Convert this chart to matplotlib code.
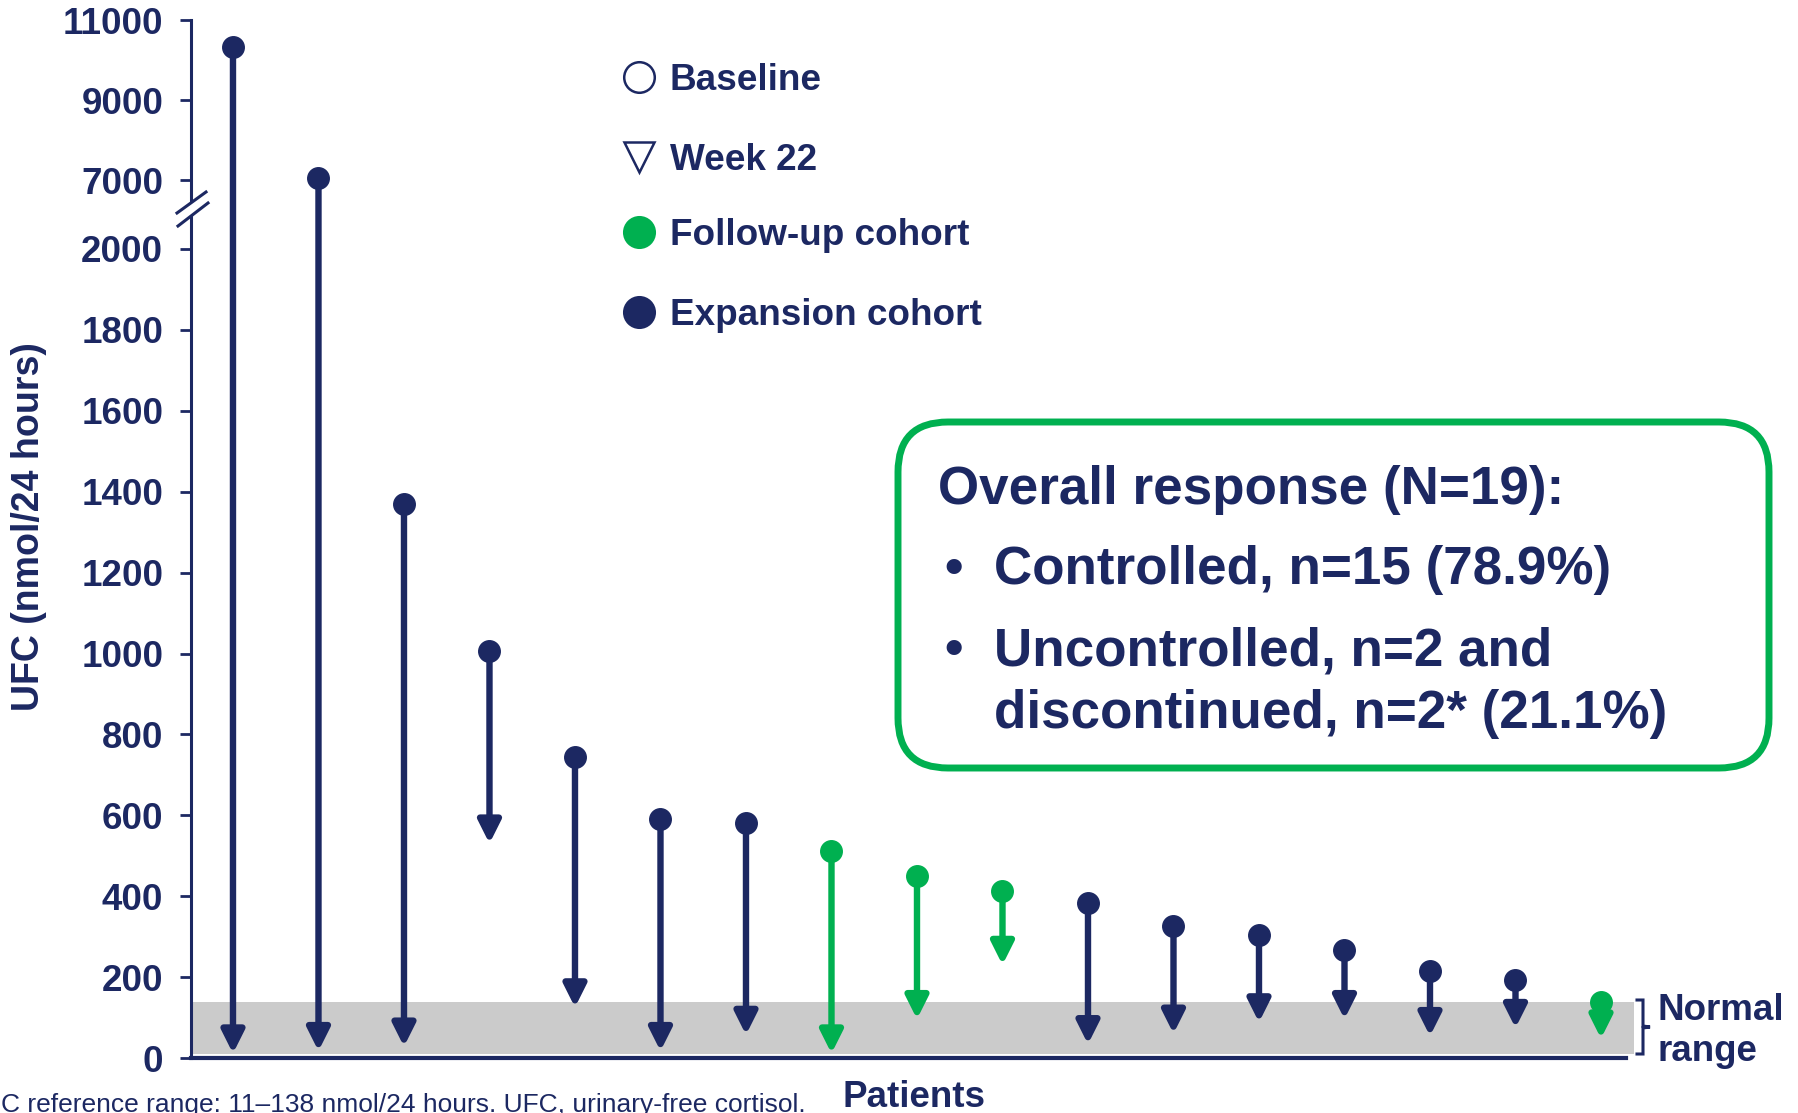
import numpy as np
import matplotlib.pyplot as plt
from matplotlib.patches import FancyArrowPatch, FancyBboxPatch, Polygon
from matplotlib.lines import Line2D
from matplotlib.transforms import IdentityTransform

plt.rcParams['font.family'] = ['Liberation Sans', 'DejaVu Sans']

# UFC per patient (nmol/24 h): baseline and week 22
patients = np.arange(1, 18)
baseline = [10330, 7060, 1370, 1005, 745, 590, 582, 511, 451, 414, 383, 326, 304, 267, 216, 193, 139]
week22 = [11, 17, 28, 530, 125, 17, 57, 11, 96, 230, 34, 60, 88, 96, 54, 74, 48]
cohort = ['exp'] * 7 + ['fu'] * 3 + ['exp'] * 6 + ['fu']
normal_range = (11, 138)
yticks = [0, 200, 400, 600, 800, 1000, 1200, 1400, 1600, 1800, 2000, 7000, 9000, 11000]

NAVY = '#1c2862'
GREEN = '#00b050'
colors = {'exp': NAVY, 'fu': GREEN}

W, H = 1798, 1113
fig = plt.figure(figsize=(W / 100, H / 100), dpi=100)
px = IdentityTransform()

ax = fig.add_axes([191 / W, 55 / H, (1634 - 191) / W, (1093 - 55) / H])

# broken y axis: compressed segment between 2000 and 7000
brk_vals = [0, 2000, 7000, 11000]
brk_pos = [0, 809, 878, 1038]


def fwd(v):
    return np.interp(np.asarray(v, float), brk_vals, brk_pos)


def inv(p):
    return np.interp(np.asarray(p, float), brk_pos, brk_vals)


ax.set_yscale('function', functions=(fwd, inv))
ax.set_ylim(0, 11000)
ax.set_xlim(0.509, 17.386)

ax.axhspan(*normal_range, color='#cbcbcb', lw=0, zorder=0)

for x, b, w, c in zip(patients, baseline, week22, cohort):
    col = colors[c]
    arr = FancyArrowPatch((x, b), (x, w), arrowstyle='-|>,head_length=0.68,head_width=0.34',
                          mutation_scale=20, lw=4.6, color=col, shrinkA=0, shrinkB=0,
                          joinstyle='round', capstyle='butt', zorder=3)
    ax.add_patch(arr)
    ax.plot(x, b, 'o', ms=15.5, color=col, mec=col, zorder=4)

ax.set_yticks(yticks)
ax.set_yticklabels([str(t) for t in yticks])
ax.set_xticks([])
ax.tick_params(axis='y', length=8, width=2, color=NAVY, pad=12,
               labelsize=26.5, labelcolor=NAVY)
for t in ax.get_yticklabels():
    t.set_fontweight('bold')
for s in ['top', 'right']:
    ax.spines[s].set_visible(False)
ax.spines['left'].set_linewidth(2.2)
ax.spines['left'].set_color(NAVY)
ax.spines['bottom'].set_linewidth(3)
ax.spines['bottom'].set_color(NAVY)
ax.spines['bottom'].set_bounds(0.509, 17.29)

# axis break marks
fig.add_artist(Polygon([(177, 900), (206, 921), (208, 910), (178, 887)], closed=True,
                       fc='white', ec='none', transform=px, zorder=5))
fig.add_artist(Line2D([177, 206], [900, 921], color=NAVY, lw=2.2, transform=px, zorder=6))
fig.add_artist(Line2D([178, 208], [887, 910], color=NAVY, lw=2.2, transform=px, zorder=6))

# normal range bracket
fig.add_artist(Line2D([1637, 1643, 1643, 1650, 1643, 1643, 1637],
                      [113, 113, 87, 86, 85, 59, 59], color=NAVY, lw=2.2,
                      transform=px, solid_joinstyle='miter'))
fig.text(1658, 93, 'Normal', transform=px, fontsize=26.5, fontweight='bold', color=NAVY, va='baseline')
fig.text(1658, 52, 'range', transform=px, fontsize=26.5, fontweight='bold', color=NAVY, va='baseline')

# legend
leg_items = [
    ('Baseline', 'o', 'white', 1036),
    ('Week 22', 'v', 'white', 956),
    ('Follow-up cohort', 'o', GREEN, 881),
    ('Expansion cohort', 'o', NAVY, 801),
]
for label, mk, fc, y in leg_items:
    ec = GREEN if fc == GREEN else NAVY
    fig.add_artist(Line2D([639], [y], marker=mk, ms=22, mfc=fc, mec=ec, mew=1.8,
                          ls='none', transform=px))
    fig.text(670, y - 13, label, transform=px, fontsize=26.6, fontweight='bold',
             color=NAVY, va='baseline')

# response summary box
box = FancyBboxPatch((898, 345), 871, 346, boxstyle='round,pad=0,rounding_size=50',
                     fc='white', ec=GREEN, lw=5, transform=px)
fig.add_artist(box)
fig.text(938, 609, 'Overall response (N=19):', transform=px, fontsize=38.2,
         fontweight='bold', color=NAVY, va='baseline')
fig.text(944, 529, '\u2022', transform=px, fontsize=38, fontweight='bold', color=NAVY, va='baseline')
fig.text(994, 529, 'Controlled, n=15 (78.9%)', transform=px, fontsize=38.2,
         fontweight='bold', color=NAVY, va='baseline')
fig.text(944, 448, '\u2022', transform=px, fontsize=38, fontweight='bold', color=NAVY, va='baseline')
fig.text(994, 448, 'Uncontrolled, n=2 and', transform=px, fontsize=38.2,
         fontweight='bold', color=NAVY, va='baseline')
fig.text(994, 385, 'discontinued, n=2* (21.1%)', transform=px, fontsize=38.2,
         fontweight='bold', color=NAVY, va='baseline')

# axis titles and footnote
fig.text(29, 586, 'UFC (nmol/24 hours)', transform=px, fontsize=27, fontweight='bold',
         color=NAVY, rotation=90, ha='center', va='center')
fig.text(914, 6, 'Patients', transform=px, fontsize=26.5, fontweight='bold',
         color=NAVY, ha='center', va='baseline')
fig.text(806, 1, 'UFC reference range: 11\u2013138 nmol/24 hours. UFC, urinary-free cortisol.',
         transform=px, fontsize=19, color=NAVY, ha='right', va='baseline')

fig.savefig('out.png', dpi=100)
plt.close(fig)
